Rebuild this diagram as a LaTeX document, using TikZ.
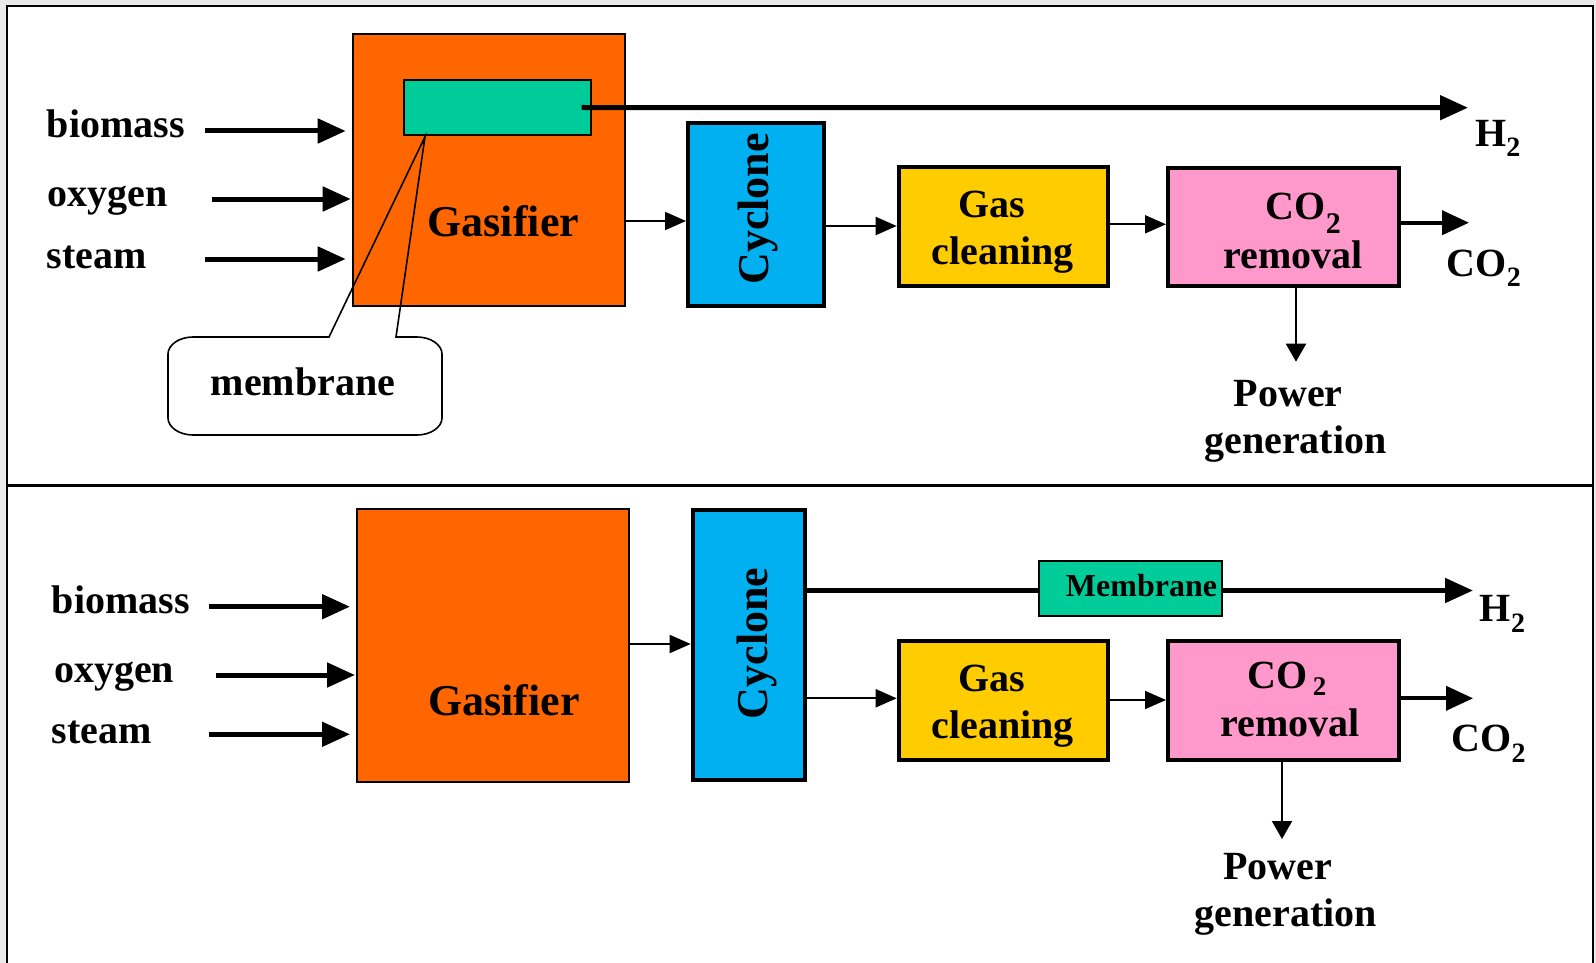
\documentclass[tikz,border=0pt]{standalone}
\usepackage{fontspec}
\setmainfont{Liberation Serif}
\usetikzlibrary{arrows.meta}
\definecolor{gasorange}{HTML}{FF6600}
\definecolor{memgreen}{HTML}{00CC99}
\definecolor{cycblue}{HTML}{00B0F0}
\definecolor{cleanyellow}{HTML}{FFCC00}
\definecolor{cotwopink}{HTML}{FF99CC}
\definecolor{pagegray}{HTML}{EAEAEA}
\newcommand\lowtwo[2]{\raisebox{-#1}{\fontsize{#2}{#2}\selectfont 2}}
\begin{document}
\begin{tikzpicture}[x=1pt,y=-1pt,
  txt/.style={font=\fontsize{40}{44}\selectfont\bfseries, inner sep=0pt, text=black},
  lbl/.style={txt, anchor=base west},
  clbl/.style={txt, anchor=base},
  unitbox/.style={draw=black, line width=4pt, inner sep=0pt},
  thinbox/.style={draw=black, line width=2pt, inner sep=0pt},
  thickarr/.style={line width=5pt, -{Triangle[length=28pt,width=24pt]}},
  medarr/.style={line width=4pt, -{Triangle[length=27pt,width=24pt]}},
  thinarr/.style={line width=2pt, -{Triangle[length=21pt,width=18pt]}},
  powarr/.style={line width=2pt, -{Triangle[length=18pt,width=20pt]}},
  thickline/.style={line width=5pt}
]
\useasboundingbox (0,0) rectangle (1596,963);
% page and frame
\fill[pagegray] (0,0) rectangle (1596,963);
\fill[white] (6.7,6) rectangle (1592.7,975);
\draw[line width=2pt] (6.7,975) -- (6.7,6) -- (1592.7,6) -- (1592.7,975);
\draw[line width=2.5pt] (6.7,485.7) -- (1592.7,485.7);

% ================= TOP PANEL =================
\node[thinbox, fill=gasorange, minimum width=272pt, minimum height=272.6pt] (gasT) at (488.7,170) {};
\node[thinbox, fill=memgreen, minimum width=186.4pt, minimum height=54.4pt] (memT) at (497.5,107.5) {};
\node[unitbox, fill=cycblue, minimum width=135.7pt, minimum height=183.6pt] (cycT) at (755.85,214.5) {};
\node[unitbox, fill=cleanyellow, minimum width=208.8pt, minimum height=119pt] (clnT) at (1003.1,226.5) {};
\node[unitbox, fill=cotwopink, minimum width=230.7pt, minimum height=117.7pt] (cotT) at (1283.35,226.85) {};

\node[clbl, font=\fontsize{44}{48}\selectfont\bfseries] (gasTt) at (503.3,236.7) {Gasifier};
\node[txt, font=\fontsize{44}{48}\selectfont\bfseries, rotate=90] (cycTt) at (757.5,209) {Cyclone};
\node[clbl] (clnTa) at (991.7,217.7) {Gas};
\node[clbl] (clnTb) at (1002.7,264.5) {cleaning};
\node[lbl] (cotTa) at (1265.7,219.3) {CO\lowtwo{13.7pt}{30}};
\node[clbl] (cotTb) at (1292.8,268.3) {removal};

\node[lbl] (bioT) at (46.7,137.7) {biomass};
\node[lbl] (oxyT) at (47.3,206.7) {oxygen};
\node[lbl] (stmT) at (46.7,268.3) {steam};
\node[lbl] (htwoT) at (1475,146.7) {H\lowtwo{10pt}{28}};
\node[lbl] (cotwoT) at (1446.7,276.7) {CO\lowtwo{10pt}{28}};
\node[clbl] (powTa) at (1288.3,406) {Power};
\node[clbl] (powTb) at (1295.5,453) {generation};

\coordinate (bioTs) at (205,131);
\coordinate (oxyTs) at (211.7,199);
\coordinate (stmTs) at (205,259);
\coordinate (htwoTe) at (1468,107.7);
\coordinate (yTa) at (0,221);
\coordinate (yTb) at (0,226);
\coordinate (yTc) at (0,224.3);
\coordinate (cotwoTe) at (1469,222.7);
\coordinate (xTp) at (1296,0);
\coordinate (powTe) at (1296,361.7);

\draw[thickarr, shorten >=6pt] (bioTs) -- (gasT.west |- bioTs);
\draw[thickarr, shorten >=1pt] (oxyTs) -- (gasT.west |- oxyTs);
\draw[thickarr, shorten >=6pt] (stmTs) -- (gasT.west |- stmTs);
\draw[thickarr] ([xshift=-10pt]memT.east) -- (htwoTe);
\draw[thinarr] (gasT.east |- yTa) -- (cycT.west |- yTa);
\draw[thinarr] (cycT.east |- yTb) -- (clnT.west |- yTb);
\draw[thinarr] (clnT.east |- yTc) -- (cotT.west |- yTc);
\draw[medarr] (cotT.east |- cotwoTe) -- (cotwoTe);
\draw[powarr] (cotT.south -| xTp) -- (powTe);

% callout
\draw[line width=1.6pt, line join=miter]
  (329,337) -- (425,136.7) -- (396,337) -- (417,337)
  .. controls (431,337) and (442,345) .. (442,354) -- (442,418)
  .. controls (442,427) and (431,435) .. (417,435) -- (193,435)
  .. controls (179,435) and (168,427) .. (168,418) -- (168,354)
  .. controls (168,345) and (179,337) .. (193,337) -- cycle;
\node[clbl] (callT) at (303,395) {membrane};

% ================= BOTTOM PANEL =================
\node[thinbox, fill=gasorange, minimum width=272pt, minimum height=273pt] (gasB) at (493,645.8) {};
\node[unitbox, fill=cycblue, minimum width=112pt, minimum height=269.4pt] (cycB) at (748.7,645) {};
\node[thinbox, fill=memgreen, minimum width=182.7pt, minimum height=54.5pt] (memB) at (1130.65,588.25) {};
\node[unitbox, fill=cleanyellow, minimum width=209.3pt, minimum height=118.7pt] (clnB) at (1003.35,700.35) {};
\node[unitbox, fill=cotwopink, minimum width=231pt, minimum height=118.7pt] (cotB) at (1283.5,700.35) {};

\node[clbl, font=\fontsize{44}{48}\selectfont\bfseries] (gasBt) at (503.8,715) {Gasifier};
\node[txt, font=\fontsize{44}{48}\selectfont\bfseries, rotate=90] (cycBt) at (756.7,643.3) {Cyclone};
\node[clbl, font=\fontsize{32}{36}\selectfont\bfseries] (memBt) at (1141.5,596.7) {Membrane};
\node[clbl] (clnBa) at (991.7,691.7) {Gas};
\node[clbl] (clnBb) at (1002.7,738.5) {cleaning};
\node[lbl] (cotBa) at (1247,688.3) {CO\hspace{5.7pt}\lowtwo{6.7pt}{27}};
\node[clbl] (cotBb) at (1290,736.7) {removal};

\node[lbl] (bioB) at (51.7,613.3) {biomass};
\node[lbl] (oxyB) at (54,682.3) {oxygen};
\node[lbl] (stmB) at (51.7,743.3) {steam};
\node[lbl] (htwoB) at (1479.7,621.7) {H\lowtwo{11pt}{28}};
\node[lbl] (cotwoB) at (1451.5,751.7) {CO\lowtwo{11pt}{28}};
\node[clbl] (powBa) at (1277.4,879) {Power};
\node[clbl] (powBb) at (1286,926.7) {generation};

\coordinate (bioBs) at (209,606.7);
\coordinate (oxyBs) at (216,675);
\coordinate (stmBs) at (209,734.3);
\coordinate (yBa) at (0,644);
\coordinate (yBh) at (0,590.5);
\coordinate (yBb) at (0,698.3);
\coordinate (yBc) at (0,700);
\coordinate (htwoBe) at (1473,590.5);
\coordinate (cotwoBe) at (1473,698.3);
\coordinate (xBp) at (1282,0);
\coordinate (powBe) at (1282,839);

\draw[thickarr, shorten >=6pt] (bioBs) -- (gasB.west |- bioBs);
\draw[thickarr, shorten >=1pt] (oxyBs) -- (gasB.west |- oxyBs);
\draw[thickarr, shorten >=6pt] (stmBs) -- (gasB.west |- stmBs);
\draw[thinarr] (gasB.east |- yBa) -- (cycB.west |- yBa);
\draw[thickline] (cycB.east |- yBh) -- (memB.west |- yBh);
\draw[thickarr] (memB.east |- yBh) -- (htwoBe);
\draw[thinarr] (cycB.east |- yBb) -- (clnB.west |- yBb);
\draw[thinarr] (clnB.east |- yBc) -- (cotB.west |- yBc);
\draw[medarr] (cotB.east |- cotwoBe) -- (cotwoBe);
\draw[powarr] (cotB.south -| xBp) -- (powBe);
\end{tikzpicture}
\end{document}
